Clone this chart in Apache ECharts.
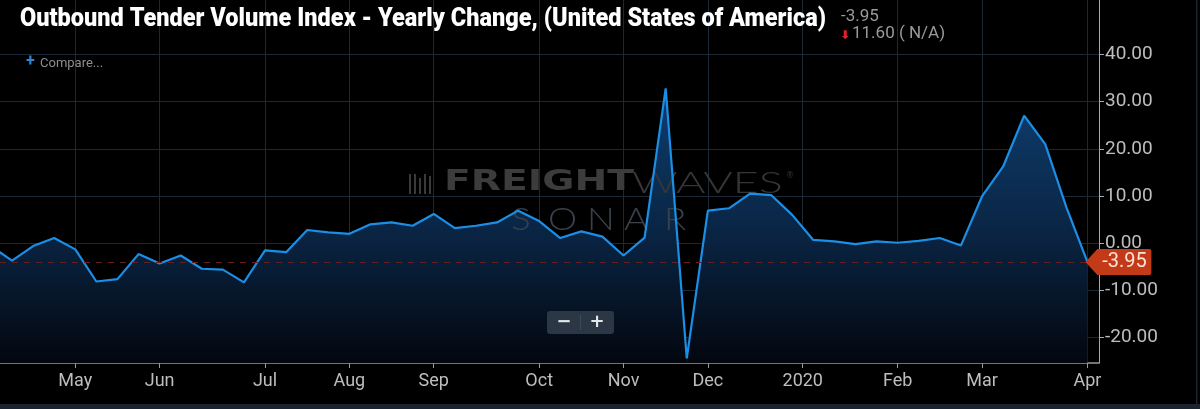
<!DOCTYPE html>
<html><head><meta charset="utf-8">
<script src="https://cdn.jsdelivr.net/npm/echarts@6/dist/echarts.min.js"></script>
<style>html,body{margin:0;padding:0;background:#000;overflow:hidden}#c{width:1200px;height:409px}</style>
</head><body><div id="c"></div>
<script>
const weeks = [
  '2019-04-07','2019-04-14','2019-04-21','2019-04-28',
  '2019-05-05','2019-05-12','2019-05-19','2019-05-26',
  '2019-06-02','2019-06-09','2019-06-16','2019-06-23','2019-06-30',
  '2019-07-07','2019-07-14','2019-07-21','2019-07-28',
  '2019-08-04','2019-08-11','2019-08-18','2019-08-25',
  '2019-09-01','2019-09-08','2019-09-15','2019-09-22','2019-09-29',
  '2019-10-06','2019-10-13','2019-10-20','2019-10-27',
  '2019-11-03','2019-11-10','2019-11-17','2019-11-24',
  '2019-12-01','2019-12-08','2019-12-15','2019-12-22','2019-12-29',
  '2020-01-05','2020-01-12','2020-01-19','2020-01-26',
  '2020-02-02','2020-02-09','2020-02-16','2020-02-23',
  '2020-03-01','2020-03-08','2020-03-15','2020-03-22','2020-03-29',
  '2020-04-05'
];
const values = [
  -0.6, -3.7, -0.6, 1.1,
  -1.3, -8.1, -7.6, -2.3,
  -4.3, -2.6, -5.4, -5.6, -8.3,
  -1.5, -1.9, 2.8, 2.3,
  2.0, 4.0, 4.4, 3.7,
  6.2, 3.2, 3.7, 4.4, 6.9,
  4.7, 1.1, 2.5, 1.4,
  -2.6, 1.2, 32.8, -24.4,
  6.9, 7.4, 10.5, 10.2, 6.0,
  0.7, 0.4, -0.2, 0.4,
  0.1, 0.5, 1.1, -0.5,
  9.9, 16.2, 27.0, 21.0, 7.65,
  -3.95
];
const monthTickWeeks = [0, 4, 8, 13, 17, 21, 26, 30, 34, 38.5, 43, 47, 52];
const monthTickLabels = ['Apr','May','Jun','Jul','Aug','Sep','Oct','Nov','Dec','2020','Feb','Mar','Apr'];
const yTicks = [-20, -10, 0, 10, 20, 30, 40];
const lastValue = -3.95;
const changeValue = '11.60';
const titleText = 'Outbound Tender Volume Index - Yearly Change, (United States of America)';

const seriesData = values.map((v, i) => [i, v]);
const lastIndex = values.length - 1;

// condense the bold title to the reference's width
const titleFont = '900 25px Roboto';
const mctx = document.createElement('canvas').getContext('2d');
mctx.font = titleFont;
const titleScale = 806 / mctx.measureText(titleText).width;

const chart = echarts.init(document.getElementById('c'), null, {renderer: 'canvas'});
const gridColor = '#1b2936';
const wmColor = '#3a3a3a';
const sonarLetters = ['S','O','N','A','R'];
const sonarX = [511, 548, 587, 624, 664];

const watermark = [
  {type: 'rect', shape: {x: 409, y: 174, width: 2, height: 20}, style: {fill: wmColor}},
  {type: 'rect', shape: {x: 414, y: 174, width: 2, height: 20}, style: {fill: wmColor}},
  {type: 'rect', shape: {x: 419, y: 178, width: 2, height: 16}, style: {fill: wmColor}},
  {type: 'rect', shape: {x: 424, y: 174, width: 2, height: 20}, style: {fill: wmColor}},
  {type: 'rect', shape: {x: 429, y: 176, width: 2, height: 18}, style: {fill: wmColor}},
  {type: 'text', x: 444, y: 169, scaleX: 1.4, style: {text: 'FREIGHT', fill: '#3c3c3c', font: 'bold 28px "DejaVu Sans"'}},
  {type: 'text', x: 632, y: 169, scaleX: 1.55, style: {text: 'WAVES', fill: '#363636', font: '300 29px "Lato"'}},
  {type: 'text', x: 786, y: 172, style: {text: '®', fill: '#363636', font: '8px "DejaVu Sans"'}}
].concat(sonarLetters.map((ch, i) => ({type: 'text', x: sonarX[i], y: 204, scaleX: 1.15,
    style: {text: ch, fill: '#3a414b', font: '300 32px "Lato"'}})));
watermark.forEach(el => { el.z = 2; el.silent = true; });

const option = {
  backgroundColor: '#000',
  animation: false,
  title: [
    {text: lastValue.toFixed(2), left: 836, top: 3,
     textStyle: {color: '#9a9a9a', fontSize: 17, fontWeight: 'normal', fontFamily: 'Roboto'}},
    {text: '⬇', left: 835, top: 25,
     textStyle: {color: '#e8202a', fontSize: 12, fontWeight: 'bold', fontFamily: 'DejaVu Sans'}},
    {text: changeValue + ' ( N/A)', left: 847, top: 20,
     textStyle: {color: '#9a9a9a', fontSize: 17, fontWeight: 'normal', fontFamily: 'Roboto'}},
    {text: '+', left: 21, top: 49,
     textStyle: {color: '#2f86d8', fontSize: 16, fontWeight: 'bold', fontFamily: 'Roboto'}},
    {text: 'Compare...', left: 35, top: 52,
     textStyle: {color: '#8e8e8e', fontSize: 13, fontWeight: 'normal', fontFamily: 'Roboto'}}
  ],
  grid: {left: 0, right: 101, top: 0, bottom: 46, containLabel: false},
  xAxis: {
    type: 'value', min: 0.43, max: 52.55,
    axisLine: {show: true, onZero: false, lineStyle: {color: '#9a9a9a', width: 1.5}},
    axisTick: {show: true, length: 5, lineStyle: {color: '#9a9a9a'}, customValues: monthTickWeeks},
    axisLabel: {show: true, customValues: monthTickWeeks, color: '#bdbdbd', fontSize: 18, fontFamily: 'Roboto', margin: 9,
      formatter: v => { const k = monthTickWeeks.indexOf(v); return k >= 0 ? monthTickLabels[k] : ''; }},
    splitLine: {show: true, lineStyle: {color: gridColor, width: 1}}
  },
  yAxis: {
    type: 'value', position: 'right', min: -25.36, max: 51.5,
    axisLine: {show: true, lineStyle: {color: '#a8a8a8', width: 1}},
    axisTick: {show: true, length: 5, lineStyle: {color: '#a8a8a8'}, customValues: yTicks},
    axisLabel: {show: true, customValues: yTicks, color: '#bdbdbd', fontSize: 19, fontFamily: 'Roboto', margin: 6,
      formatter: v => v.toFixed(2)},
    splitLine: {show: true, lineStyle: {color: gridColor, width: 1}}
  },
  graphic: [
    {type: 'text', x: 20, y: 7, scaleX: titleScale, z: 5, silent: true,
     style: {text: titleText, fill: '#ffffff', font: titleFont}},
    {type: 'rect', z: 5, silent: true, shape: {x: 0, y: 404, width: 1200, height: 5}, style: {fill: '#1a2330'}},
    {type: 'rect', z: 5, silent: true, shape: {x: 1196, y: 0, width: 1.5, height: 409}, style: {fill: '#1a2330'}},
    {type: 'rect', z: 10, silent: true, shape: {x: 547, y: 311, width: 67, height: 23, r: 3}, style: {fill: '#2b3745'}},
    {type: 'rect', z: 11, silent: true, shape: {x: 580, y: 315, width: 1, height: 15}, style: {fill: '#3d4a5a'}},
    {type: 'text', z: 11, silent: true, x: 564, y: 322.5, style: {text: '−', fill: '#e2e6ea', font: 'bold 18px "DejaVu Sans"', align: 'center', verticalAlign: 'middle'}},
    {type: 'text', z: 11, silent: true, x: 597, y: 322.5, style: {text: '+', fill: '#e2e6ea', font: 'bold 18px "DejaVu Sans"', align: 'center', verticalAlign: 'middle'}}
  ].concat(watermark),
  series: [{
    type: 'line',
    data: seriesData,
    showSymbol: false,
    symbol: 'none',
    clip: true,
    z: 1,
    lineStyle: {width: 0, opacity: 0},
    areaStyle: {origin: 'start', opacity: 1, color: new echarts.graphic.LinearGradient(0, 0, 0, 1, [
      {offset: 0, color: '#0e3d6e'},
      {offset: 0.5, color: '#0a2646'},
      {offset: 1, color: '#03070f'}
    ])}
  }, {
    type: 'line',
    data: seriesData,
    showSymbol: false,
    symbol: 'none',
    clip: true,
    z: 3,
    lineStyle: {color: '#1b8fe6', width: 2.2},
    markLine: {
      silent: true, symbol: ['none', 'none'], animation: false,
      label: {show: false},
      lineStyle: {color: '#6a1e1e', type: [6, 6], width: 1},
      data: [{yAxis: lastValue}]
    },
    markPoint: {
      silent: true, animation: false,
      symbol: 'path://M0 13 L12 0 L64 0 Q66 0 66 2 L66 24 Q66 26 64 26 L12 26 Z',
      symbolSize: [66, 26], symbolOffset: [31, 0],
      itemStyle: {color: '#c23a17'},
      label: {show: true, position: 'inside', offset: [6, 0], color: '#fbe3db', fontSize: 20, fontFamily: 'Roboto',
        formatter: () => lastValue.toFixed(2)},
      data: [{coord: [lastIndex, lastValue]}]
    }
  }]
};
chart.setOption(option);
</script>
</body></html>
